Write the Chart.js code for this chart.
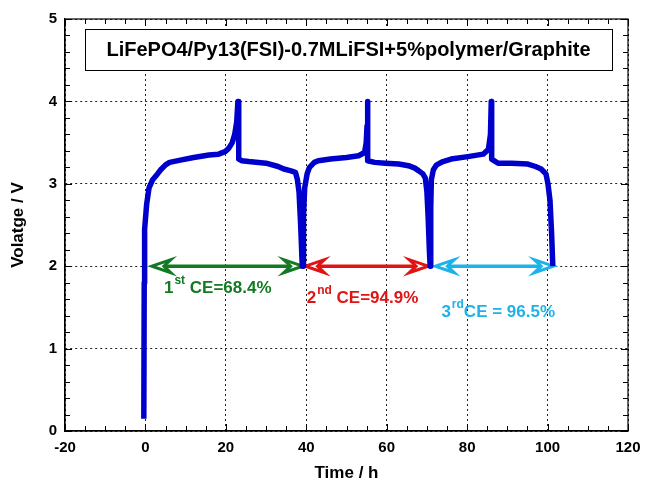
<!DOCTYPE html>
<html>
<head>
<meta charset="utf-8">
<script src="https://cdn.jsdelivr.net/npm/chart.js@4/dist/chart.umd.min.js"></script>
<style>
  html, body { margin: 0; padding: 0; background: #fff; }
  #wrap { width: 645px; height: 484px; }
</style>
</head>
<body>
<div id="wrap"><canvas id="cv" width="645" height="484"></canvas></div>
<script>
// Time (h) and voltage (V), three charge/discharge cycles
const timeH = [
  -0.4, -0.3, -0.2, 0.3, 0.9, 1.8, 3.0, 3.8, 5.0, 6.0, 9.0, 12.0, 15.8, 18.2, 19.8, 20.7, 21.6, 22.2, 22.7, 23.0,
  23.2, 23.2, 24.0, 25.7, 30.0, 33.0, 34.4, 36.0, 37.3, 37.8, 38.2, 38.6, 39.0,
  39.2, 39.3, 39.6, 40.2, 40.8, 42.0, 43.0, 46.0, 50.0, 53.0, 54.5, 54.9, 55.1, 55.2,
  55.3, 55.3, 57.0, 59.7, 63.0, 65.4, 67.0, 67.9, 69.0, 69.6, 70.0, 70.3, 70.6, 70.8,
  70.9, 71.0, 71.1, 71.6, 72.4, 74.0, 76.0, 80.2, 84.0, 85.3, 85.8, 86.0,
  86.1, 86.1, 87.7, 91.0, 95.1, 97.0, 98.4, 99.6, 100.1, 100.6, 101.0, 101.3
];
const voltV = [
  0.15, 1.8, 2.45, 2.75, 2.95, 3.05, 3.12, 3.17, 3.23, 3.26, 3.29, 3.32, 3.35, 3.36, 3.39, 3.43, 3.5, 3.6, 3.75, 4.0,
  4.0, 3.3, 3.28, 3.27, 3.25, 3.21, 3.18, 3.16, 3.14, 3.05, 2.9, 2.5, 2.0,
  2.0, 2.6, 2.95, 3.12, 3.2, 3.26, 3.28, 3.3, 3.32, 3.34, 3.38, 3.5, 3.7, 4.0,
  4.0, 3.28, 3.26, 3.25, 3.24, 3.22, 3.19, 3.16, 3.12, 3.07, 2.9, 2.6, 2.2, 2.0,
  2.0, 2.7, 3.05, 3.17, 3.23, 3.27, 3.3, 3.33, 3.36, 3.42, 3.6, 4.0,
  4.0, 3.3, 3.25, 3.25, 3.24, 3.21, 3.18, 3.12, 3.0, 2.8, 2.4, 2.0
];

// CE arrows: start/end time and the voltage they sit on
const arrowStart = [1.6, 39.8, 72.1];
const arrowEnd = [39.1, 70.3, 101.4];
const arrowVolt = [2, 2, 2];
const arrowColors = ['#137a23', '#e01414', '#1cb2ea'];

// CE labels
const ceOrdinal = ['1', '2', '3'];
const ceSuffix = ['st', 'nd', 'rd'];
const ceText = [' CE=68.4%', ' CE=94.9%', 'CE = 96.5%'];
const ceAt = [[4.6, 1.68], [40.1, 1.55], [73.6, 1.38]];

const xTicks = [-20, 0, 20, 40, 60, 80, 100, 120];
const yTicks = [0, 1, 2, 3, 4, 5];

const titleText = 'LiFePO4/Py13(FSI)-0.7MLiFSI+5%polymer/Graphite';
const FONT = "'Liberation Sans', Arial, Helvetica, sans-serif";

const points = timeH.map((t, i) => ({ x: t, y: voltV[i] }));

// box, inward minor ticks, arrows, labels
const decor = {
  id: 'decor',
  beforeDatasetsDraw(chart) {
    const { ctx, scales: { x, y } } = chart;
    for (let i = 0; i < arrowStart.length; i++) {
      const x1 = x.getPixelForValue(arrowStart[i]);
      const x2 = x.getPixelForValue(arrowEnd[i]);
      const py = y.getPixelForValue(arrowVolt[i]);
      const L = 19, H = 6.5, N = 12;
      ctx.save();
      ctx.strokeStyle = arrowColors[i];
      ctx.lineWidth = 3.5;
      ctx.beginPath();
      ctx.moveTo(x1 + N, py);
      ctx.lineTo(x2 - N, py);
      ctx.stroke();
      ctx.lineWidth = 3;
      ctx.lineJoin = 'miter';
      [[x1, 1], [x2, -1]].forEach(([tx, d]) => {
        ctx.beginPath();
        ctx.moveTo(tx, py);
        ctx.lineTo(tx + d * L, py - H);
        ctx.lineTo(tx + d * N, py);
        ctx.lineTo(tx + d * L, py + H);
        ctx.closePath();
        ctx.fillStyle = '#fff';
        ctx.fill();
        ctx.stroke();
      });
      ctx.restore();
    }
  },
  afterDraw(chart) {
    const { ctx, chartArea: a, scales: { x, y } } = chart;
    ctx.save();
    ctx.strokeStyle = '#000';
    ctx.lineWidth = 1.2;
    ctx.strokeRect(a.left, a.top, a.right - a.left, a.bottom - a.top);
    ctx.lineWidth = 1;
    ctx.beginPath();
    for (let v = -20; v <= 120; v += 5) {
      const px = Math.round(x.getPixelForValue(v)) + 0.5;
      const len = v % 20 === 0 ? 7 : 5;
      ctx.moveTo(px, a.bottom); ctx.lineTo(px, a.bottom - len);
      ctx.moveTo(px, a.top); ctx.lineTo(px, a.top + len);
    }
    for (let k = 0; k <= 25; k++) {
      const v = k * 0.2;
      const py = Math.round(y.getPixelForValue(v)) + 0.5;
      const len = k % 5 === 0 ? 7 : 5;
      ctx.moveTo(a.left, py); ctx.lineTo(a.left + len, py);
      ctx.moveTo(a.right, py); ctx.lineTo(a.right - len, py);
    }
    ctx.stroke();

    // title box
    const bx = a.left + 20, bw = a.right - a.left - 36, by = a.top + 10, bh = 41;
    ctx.fillStyle = '#fff';
    ctx.fillRect(bx, by, bw, bh);
    ctx.strokeRect(bx + 0.5, by + 0.5, bw, bh);
    ctx.fillStyle = '#000';
    ctx.font = 'bold 20px ' + FONT;
    ctx.textAlign = 'center';
    ctx.textBaseline = 'middle';
    ctx.fillText(titleText, bx + bw / 2, by + bh / 2 + 1);

    // CE labels
    ctx.textAlign = 'left';
    ctx.textBaseline = 'alphabetic';
    for (let i = 0; i < ceText.length; i++) {
      let px = x.getPixelForValue(ceAt[i][0]);
      const py = y.getPixelForValue(ceAt[i][1]);
      ctx.fillStyle = arrowColors[i];
      ctx.font = 'bold 17px ' + FONT;
      ctx.fillText(ceOrdinal[i], px, py);
      px += ctx.measureText(ceOrdinal[i]).width + 1;
      ctx.font = 'bold 12px ' + FONT;
      ctx.fillText(ceSuffix[i], px, py - 9);
      px += ctx.measureText(ceSuffix[i]).width;
      ctx.font = 'bold 17px ' + FONT;
      ctx.fillText(ceText[i], px, py);
    }
    ctx.restore();
  }
};

new Chart(document.getElementById('cv'), {
  type: 'scatter',
  data: {
    datasets: [{
      data: points,
      showLine: true,
      borderColor: '#0000cc',
      borderWidth: 5.5,
      pointRadius: 0,
      tension: 0,
      borderJoinStyle: 'round',
      borderCapStyle: 'butt'
    }]
  },
  options: {
    responsive: false,
    animation: false,
    layout: { padding: { top: 19, right: 17, left: 0, bottom: 0 } },
    plugins: { legend: { display: false }, tooltip: { enabled: false } },
    scales: {
      x: {
        type: 'linear', min: -20, max: 120,
        afterBuildTicks: s => { s.ticks = xTicks.map(v => ({ value: v })); },
        afterFit: s => { s.height = 53; s.paddingLeft = 0; s.paddingRight = 0; },
        grid: { color: '#222', lineWidth: 1, drawTicks: false },
        border: { display: true, color: '#000', width: 1.2, dash: [2, 3] },
        ticks: { color: '#000', padding: 8, font: { family: FONT, size: 15, weight: 'bold' } },
        title: { display: true, text: 'Time / h', color: '#000', padding: { top: 7, bottom: 0 },
          font: { family: FONT, size: 17, weight: 'bold' } }
      },
      y: {
        type: 'linear', min: 0, max: 5,
        afterBuildTicks: s => { s.ticks = yTicks.map(v => ({ value: v })); },
        afterFit: s => { s.width = 65; s.paddingTop = 0; s.paddingBottom = 0; },
        grid: { color: '#222', lineWidth: 1, drawTicks: false },
        border: { display: true, color: '#000', width: 1.2, dash: [2, 3] },
        ticks: { color: '#000', padding: 8, font: { family: FONT, size: 15, weight: 'bold' } },
        title: { display: true, text: 'Volatge / V', color: '#000', padding: { top: 8, bottom: 0 },
          font: { family: FONT, size: 17, weight: 'bold' } }
      }
    }
  },
  plugins: [decor]
});
</script>
</body>
</html>
